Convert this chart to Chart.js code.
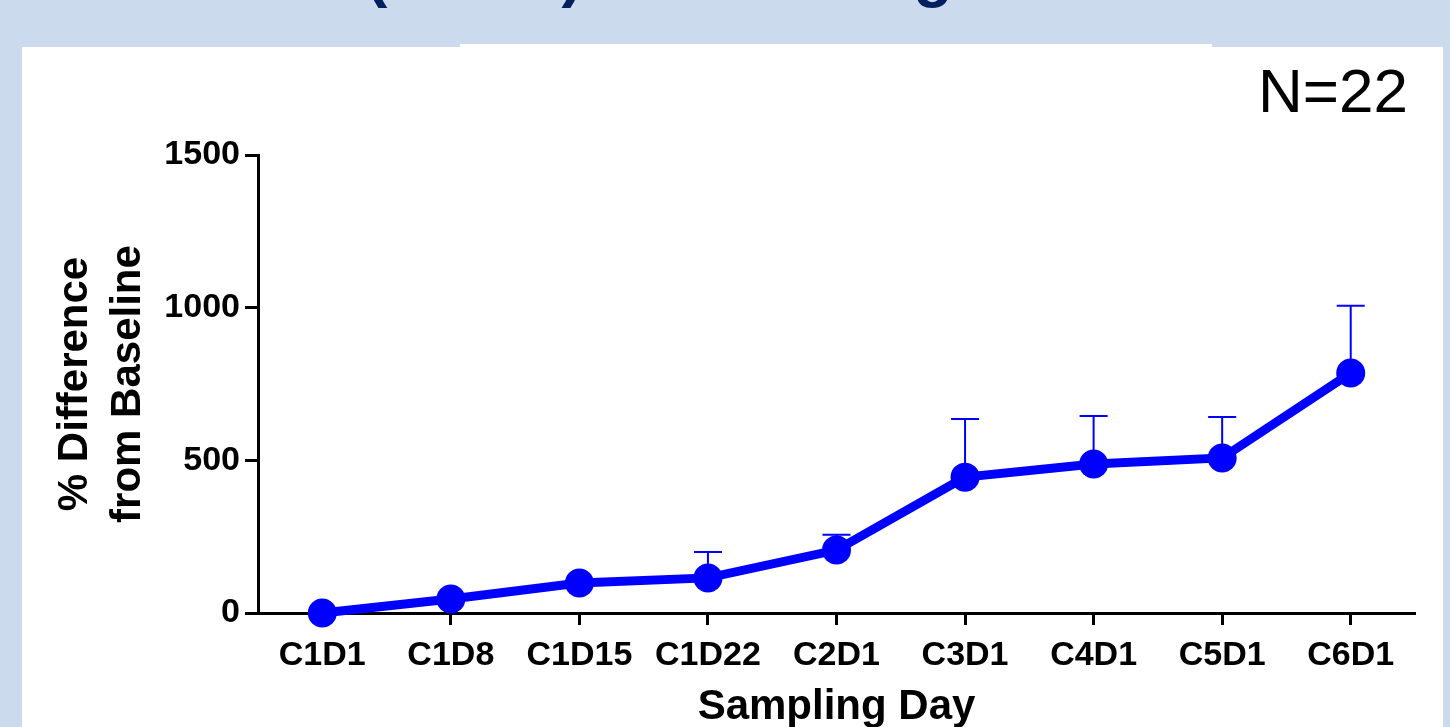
<!DOCTYPE html>
<html>
<head>
<meta charset="utf-8">
<script src="https://cdn.jsdelivr.net/npm/chart.js@4.4.1/dist/chart.umd.min.js"></script>
<style>
  html, body { margin: 0; padding: 0; }
  body { width: 1450px; height: 727px; overflow: hidden; position: relative; background: #cbdaec; font-family: "Liberation Sans", Arial, sans-serif; }
  .panel { position: absolute; background: #ffffff; }
  #headline { position: absolute; left: 124px; top: -59px; font-size: 64px; line-height: 64px; font-weight: bold; color: #002060; white-space: nowrap; }
  #count { position: absolute; right: 42px; top: 60px; font-size: 62px; line-height: 62px; color: #000; }
  #chart { position: absolute; left: 0; top: 0; }
</style>
</head>
<body>
<div id="headline">Plasma (VEGF) Fold Change</div>
<div class="panel" style="left:22px; top:47px; width:438px; height:680px;"></div>
<div class="panel" style="left:460px; top:44px; width:752px; height:683px;"></div>
<div class="panel" style="left:1212px; top:47px; width:231px; height:680px;"></div>
<div id="count">N=22</div>
<canvas id="chart" width="1450" height="727"></canvas>
<script>
// Sampling days and mean % difference from baseline, with SEM (upper bar only)
const samplingDays = ['C1D1', 'C1D8', 'C1D15', 'C1D22', 'C2D1', 'C3D1', 'C4D1', 'C5D1', 'C6D1'];
const meanPctDiff  = [0, 46, 98, 115, 206, 445, 488, 508, 786];
const semPctDiff   = [null, null, null, 85, 50, 190, 157, 134, 220];
const yTicks       = [0, 500, 1000, 1500];

const BLUE = '#0000ff';

// Upper error bars with caps, drawn beneath the line and markers
const upperErrorBars = {
  id: 'upperErrorBars',
  beforeDatasetsDraw(chart) {
    const { ctx, scales: { x, y } } = chart;
    ctx.save();
    ctx.strokeStyle = BLUE;
    ctx.lineWidth = 2;
    meanPctDiff.forEach((m, i) => {
      const s = semPctDiff[i];
      if (s == null) return;
      const px = x.getPixelForValue(i);
      const y0 = y.getPixelForValue(m);
      const y1 = y.getPixelForValue(m + s);
      ctx.beginPath();
      ctx.moveTo(px, y0);
      ctx.lineTo(px, y1);
      ctx.moveTo(px - 14, y1);
      ctx.lineTo(px + 14, y1);
      ctx.stroke();
    });
    ctx.restore();
  }
};

const tickFont = { family: '"Liberation Sans", Arial, sans-serif', size: 34, weight: 'bold' };
const titleFont = { family: '"Liberation Sans", Arial, sans-serif', size: 42, weight: 'bold', lineHeight: 1.26 };

new Chart(document.getElementById('chart'), {
  type: 'line',
  data: {
    labels: samplingDays,
    datasets: [{
      data: meanPctDiff,
      borderColor: BLUE,
      backgroundColor: BLUE,
      borderWidth: 9,
      pointRadius: 14.5,
      pointBorderWidth: 0,
      pointBackgroundColor: BLUE,
      tension: 0,
      fill: false,
      clip: false
    }]
  },
  plugins: [upperErrorBars],
  options: {
    responsive: false,
    animation: false,
    events: [],
    layout: { padding: { left: 0, top: 155, right: 35, bottom: 0 } },
    plugins: { legend: { display: false }, tooltip: { enabled: false } },
    scales: {
      x: {
        type: 'category',
        offset: true,
        border: { display: true, color: '#000', width: 3 },
        grid: {
          offset: false,
          drawOnChartArea: false,
          drawTicks: true,
          tickLength: 12,
          tickWidth: 3,
          tickColor: (c) => (c.index === 0 ? 'rgba(0,0,0,0)' : '#000')
        },
        ticks: { color: '#000', font: tickFont, padding: 10, maxRotation: 0, autoSkip: false },
        title: { display: true, text: 'Sampling Day', color: '#000', font: { ...titleFont, lineHeight: 0.9 }, padding: { top: 0, bottom: 1 } },
        afterFit: (s) => { s.height = 114; }
      },
      y: {
        min: 0,
        max: 1500,
        border: { display: true, color: '#000', width: 3 },
        grid: {
          drawOnChartArea: false,
          drawTicks: true,
          tickLength: 13,
          tickWidth: 3,
          tickColor: '#000'
        },
        afterBuildTicks: (s) => { s.ticks = yTicks.map(v => ({ value: v })); },
        ticks: { color: '#000', font: tickFont, padding: 5, callback: (v) => String(v) },
        title: { display: true, text: ['% Difference', 'from Baseline'], color: '#000', font: titleFont, padding: { top: 49, bottom: 0 } },
        afterFit: (s) => { s.width = 258; }
      }
    }
  }
});
</script>
</body>
</html>
